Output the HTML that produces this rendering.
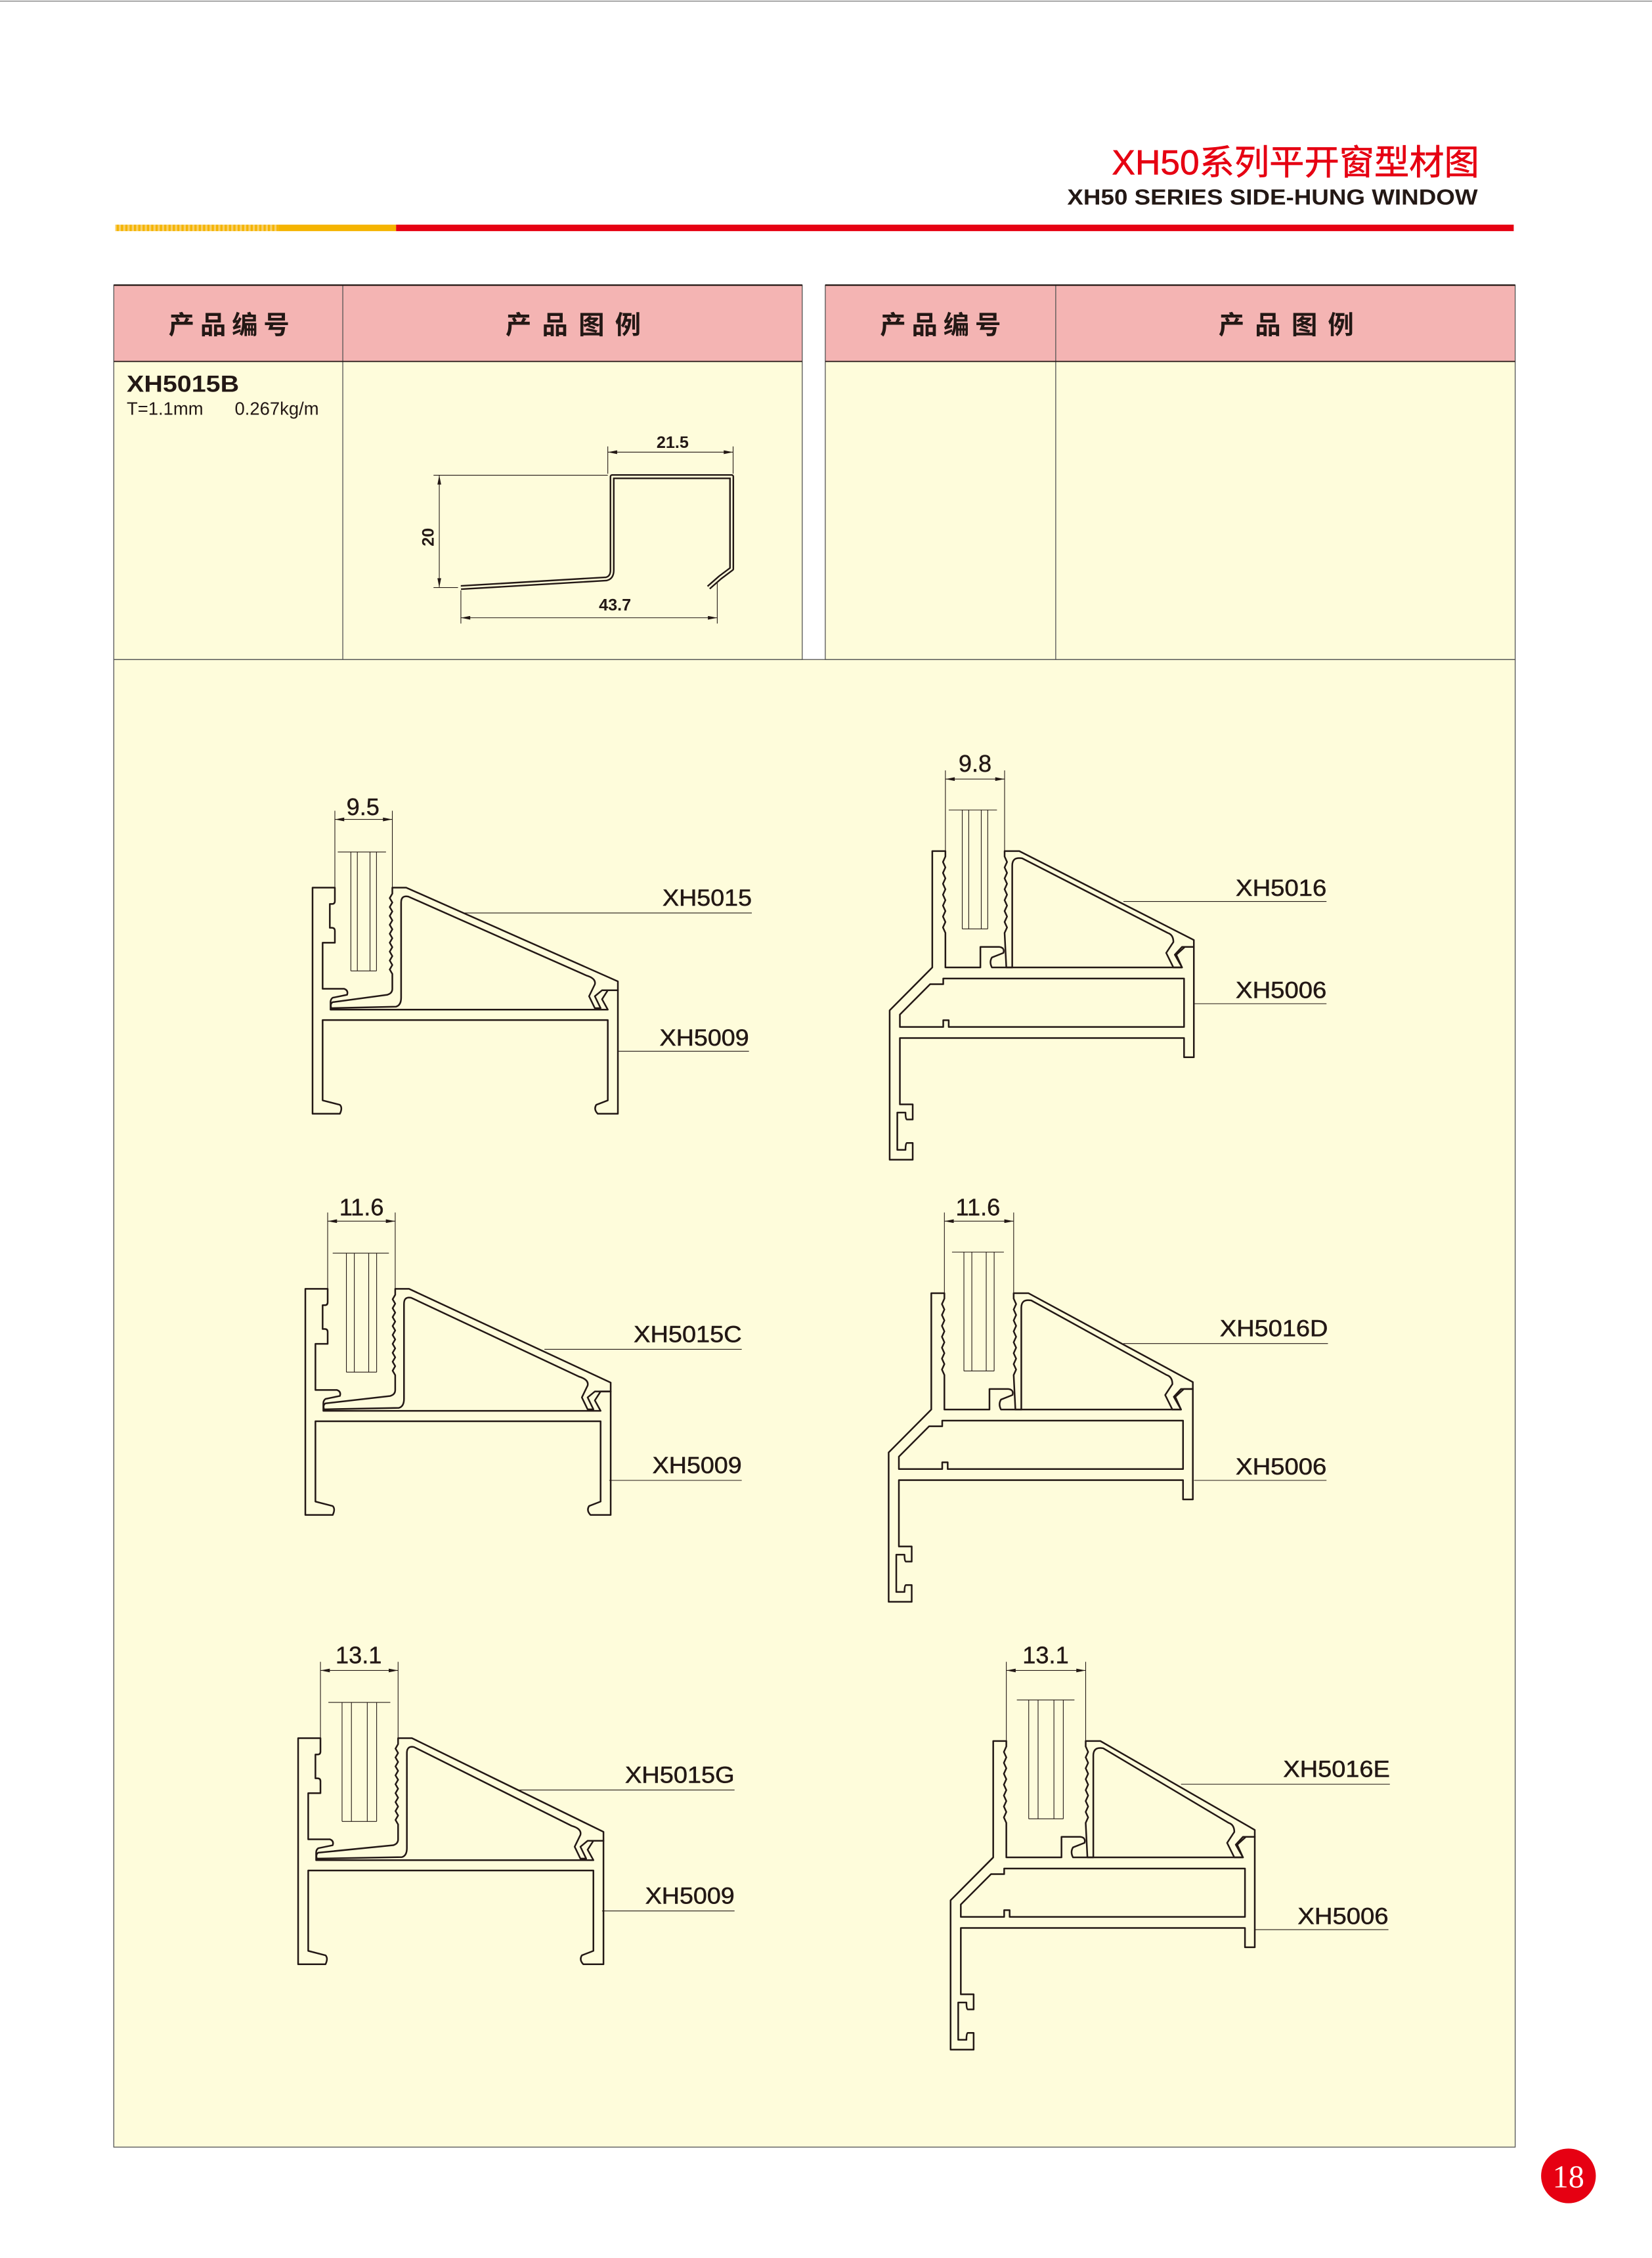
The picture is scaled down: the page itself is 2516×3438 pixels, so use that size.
<!DOCTYPE html>
<html><head><meta charset="utf-8"><style>
html,body{margin:0;padding:0;background:#fff;}
svg{display:block;}
text{font-family:"Liberation Sans","Noto Sans CJK SC",sans-serif;fill:#231815;}
.p{fill:none;stroke:#231815;stroke-width:2.5;vector-effect:non-scaling-stroke;stroke-linejoin:round;}
.t{fill:none;stroke:#231815;stroke-width:1.1;vector-effect:non-scaling-stroke;}
.d{fill:none;stroke:#231815;stroke-width:0.5;}
.lb{font-size:16px;stroke:#231815;stroke-width:0.25;}
.dm{font-size:16.5px;text-anchor:middle;stroke:#231815;stroke-width:0.2;}
</style></head><body>
<svg width="2516" height="3438" viewBox="0 0 1147 1568" preserveAspectRatio="none" xmlns="http://www.w3.org/2000/svg">
<defs>
<marker id="ar" viewBox="0 0 10 4" refX="10" refY="2" markerWidth="7" markerHeight="2.6" markerUnits="userSpaceOnUse" orient="auto-start-reverse"><path d="M0,0 L10,2 L0,4 Z" fill="#231815"/></marker>
<pattern id="st" width="3" height="10" patternUnits="userSpaceOnUse"><rect width="3" height="10" fill="#f8d06a"/><rect width="1.5" height="10" fill="#f5b400"/></pattern>
</defs>
<rect width="1147" height="1568" fill="#fff"/>
<line x1="0" y1="0.8" x2="1147" y2="0.8" stroke="#999" stroke-width="0.8"/>
<text x="1027" y="121" font-size="24" style="fill:#e60012;stroke:#e60012;stroke-width:0.3" text-anchor="end" textLength="255" lengthAdjust="spacingAndGlyphs">XH50系列平开窗型材图</text>
<text x="1026" y="142" font-size="15" font-weight="bold" text-anchor="end" textLength="285" lengthAdjust="spacingAndGlyphs">XH50 SERIES SIDE-HUNG WINDOW</text>
<rect x="80" y="156" width="113" height="4.5" fill="url(#st)"/>
<rect x="193" y="156" width="82" height="4.5" fill="#f5b400"/>
<rect x="275" y="156" width="776" height="4.5" fill="#e60012"/>
<rect x="79" y="198" width="478" height="260" fill="#fefcdb"/>
<rect x="573" y="198" width="479" height="260" fill="#fefcdb"/>
<rect x="79" y="198" width="478" height="53" fill="#f4b4b3"/>
<rect x="573" y="198" width="479" height="53" fill="#f4b4b3"/>
<rect x="79" y="458" width="973" height="1033" fill="#fefcdb"/>
<g stroke="#555" stroke-width="0.6" fill="none">
<rect x="79" y="198" width="478" height="260"/>
<rect x="573" y="198" width="479" height="260"/>
<line x1="238" y1="198" x2="238" y2="458"/><line x1="733" y1="198" x2="733" y2="458"/>
<line x1="79" y1="251" x2="557" y2="251"/><line x1="573" y1="251" x2="1052" y2="251"/>
<rect x="79" y="458" width="973" height="1033"/>
</g>
<line x1="79" y1="198" x2="557" y2="198" stroke="#231815" stroke-width="1"/>
<line x1="573" y1="198" x2="1052" y2="198" stroke="#231815" stroke-width="1"/>
<line x1="79" y1="251" x2="557" y2="251" stroke="#231815" stroke-width="0.8"/>
<line x1="573" y1="251" x2="1052" y2="251" stroke="#231815" stroke-width="0.8"/>
<g font-size="18" font-weight="bold" text-anchor="middle">
<text x="159" y="232" textLength="84" lengthAdjust="spacing">产 品 编 号</text><text x="398" y="232" textLength="94" lengthAdjust="spacing">产 品 图 例</text>
<text x="653" y="232" textLength="84" lengthAdjust="spacing">产 品 编 号</text><text x="893" y="232" textLength="94" lengthAdjust="spacing">产 品 图 例</text>
</g>
<text x="88" y="272" font-size="16" font-weight="bold" textLength="78" lengthAdjust="spacingAndGlyphs">XH5015B</text>
<text x="88" y="288" font-size="12.5">T=1.1mm</text>
<text x="163" y="288" font-size="12.5">0.267kg/m</text>
<path d="M320,408 L421,402 Q425,401 425,396 V331 H508 V395 L500,401 L492,408" fill="none" stroke="#231815" stroke-width="3.4" stroke-linejoin="round"/>
<path d="M320,408 L421,402 Q425,401 425,396 V331 H508 V395 L500,401 L492,408" fill="none" stroke="#fefcdb" stroke-width="1.2" stroke-linejoin="round"/>
<g class="d">
<line x1="422" y1="314" x2="509" y2="314" marker-start="url(#ar)" marker-end="url(#ar)"/>
<line x1="422" y1="310" x2="422" y2="329"/><line x1="509" y1="310" x2="509" y2="329"/>
<line x1="305" y1="330" x2="305" y2="408" marker-start="url(#ar)" marker-end="url(#ar)"/>
<line x1="301" y1="330" x2="422" y2="330"/><line x1="301" y1="408" x2="318" y2="408"/>
<line x1="320" y1="429" x2="498" y2="429" marker-start="url(#ar)" marker-end="url(#ar)"/>
<line x1="320" y1="410" x2="320" y2="433"/><line x1="498" y1="405" x2="498" y2="433"/>
</g>
<text x="467" y="311" font-size="11.5" font-weight="bold" text-anchor="middle">21.5</text>
<text x="427" y="424" font-size="11.5" font-weight="bold" text-anchor="middle">43.7</text>
<text x="301" y="373" font-size="11.5" font-weight="bold" text-anchor="middle" transform="rotate(-90 301 373)">20</text>

<g transform="translate(217,616.4) scale(1,1.033)">
<path class="p" d="M0,0 H15.5 V9 Q15.5,11 13.5,11 H12 V27 H13.5 Q15.5,27 15.5,29 V37 H7 V68 H22 Q25,69 24,72 L14,74 Q12.5,75 12.5,77 V82 H205 L201,75 L205,69 H212 V152 H198 Q195,149 197,146 L205,143 V89 H7 V143 L19,146 Q21,148 19,152 H0 Z"/>
<path class="p" d="M55.4,0 L55.4,4 L53.6,7 L55.4,10 L53.6,13 L55.4,16 L53.6,19 L55.4,22 L53.6,25 L55.4,28 L53.6,31 L55.4,34 L53.6,37 L55.4,40 L53.6,43 L55.4,46 L53.6,49 L55.4,52 L53.6,55 L55.4,58 L55.4,68 Q55.4,71 52,72 L14,77 Q12,78 13,81 L58,80 Q61.5,79 61.5,74 V10 Q61.5,5 66.5,6 L190,59 Q197,61 196,65 L192,73 L196,81 H200 L196,73 L201,69 H212 V63 L65,0 Z"/>
<path class="t" d="M26.6,-24 V56 M31.1,-24 V56 M39.9,-24 V56 M44.4,-24 V56 M17.5,-24 H51 M26.6,56 H44.4"/>
</g>
<g transform="translate(212,895) scale(1,1.033)">
<path class="p" d="M0,0 H15.5 V9 Q15.5,11 13.5,11 H12 V27 H13.5 Q15.5,27 15.5,29 V37 H7 V68 H22 Q25,69 24,72 L14,74 Q12.5,75 12.5,77 V82 H205 L201,75 L205,69 H212 V152 H198 Q195,149 197,146 L205,143 V89 H7 V143 L19,146 Q21,148 19,152 H0 Z"/>
<path class="p" d="M62.4,0 L62.4,4 L60.6,7 L62.4,10 L60.6,13 L62.4,16 L60.6,19 L62.4,22 L60.6,25 L62.4,28 L60.6,31 L62.4,34 L60.6,37 L62.4,40 L60.6,43 L62.4,46 L60.6,49 L62.4,52 L60.6,55 L62.4,58 L62.4,68 Q62.4,71 59,72 L14,77 Q12,78 13,81 L65,80 Q68.5,79 68.5,74 V10 Q68.5,5 73.5,6 L190,59 Q197,61 196,65 L192,73 L196,81 H200 L196,73 L201,69 H212 V63 L72,0 Z"/>
<path class="t" d="M28.5,-24 V56 M34,-24 V56 M44,-24 V56 M49.5,-24 V56 M19,-24 H58 M28.5,56 H49.5"/>
</g>
<g transform="translate(207,1207) scale(1,1.033)">
<path class="p" d="M0,0 H15.5 V9 Q15.5,11 13.5,11 H12 V27 H13.5 Q15.5,27 15.5,29 V37 H7 V68 H22 Q25,69 24,72 L14,74 Q12.5,75 12.5,77 V82 H205 L201,75 L205,69 H212 V152 H198 Q195,149 197,146 L205,143 V89 H7 V143 L19,146 Q21,148 19,152 H0 Z"/>
<path class="p" d="M69.4,0 L69.4,4 L67.6,7 L69.4,10 L67.6,13 L69.4,16 L67.6,19 L69.4,22 L67.6,25 L69.4,28 L67.6,31 L69.4,34 L67.6,37 L69.4,40 L67.6,43 L69.4,46 L67.6,49 L69.4,52 L67.6,55 L69.4,58 L69.4,68 Q69.4,71 66,72 L14,77 Q12,78 13,81 L72,80 Q75.5,79 75.5,74 V10 Q75.5,5 80.5,6 L190,59 Q197,61 196,65 L192,73 L196,81 H200 L196,73 L201,69 H212 V63 L79,0 Z"/>
<path class="t" d="M30.5,-24 V56 M37,-24 V56 M48,-24 V56 M54.5,-24 V56 M21,-24 H64 M30.5,56 H54.5"/>
</g>

<g transform="translate(617.7,591) scale(1,1.2628)">
<path class="p" d="M29.6,0 H38.7 L38.7,3 L37,6 L38.7,9 L37,12 L38.7,15 L37,18 L38.7,21 L37,24 L38.7,27 L37,30 L38.7,33 L37,36 L38.7,39 L37,42 L38.7,45 L38.7,64 H63 V52.7 H76 Q80,53 79,56 L71,58.5 Q69,61 71,64 H203 L198,57 L203,52.7 H211.2 V113.4 H204.4 V102.8 H7.1 V139.3 H16 V147.6 H12 Q11,147.6 11,143.8 H5.3 V164.3 H11 Q11,160.5 12,160.5 H16 V169.7 H0 V87.6 L29.6,64 Z"/>
<path class="p" d="M37.2,70.1 V73.2 H28.1 L7.1,89.9 V96.7 H37.2 V93 H41 V96.7 H204.4 V70.1 Z"/>
<path class="p" d="M79.8,0 H90 L211.2,48.9 V52.7 H205 L199,57 L203,64 H197 L192,56 L197,50 Q197,46 193,45 L92,4 Q85.1,3 85.1,8 V64 H81 L79.8,45 L81.5,42 L79.8,39 L81.5,36 L79.8,33 L81.5,30 L79.8,27 L81.5,24 L79.8,21 L81.5,18 L79.8,15 L81.5,12 L79.8,9 L81.5,6 L79.8,3 Z"/>
<path class="t" d="M50.4,-22.6 V42.8 M54.9,-22.6 V42.8 M63.6,-22.6 V42.8 M68.1,-22.6 V42.8 M41,-22.6 H74.5 M50.4,42.8 H68.1"/>
</g>
<g transform="translate(617,898) scale(1,1.2628)">
<path class="p" d="M29.6,0 H38.7 L38.7,3 L37,6 L38.7,9 L37,12 L38.7,15 L37,18 L38.7,21 L37,24 L38.7,27 L37,30 L38.7,33 L37,36 L38.7,39 L37,42 L38.7,45 L38.7,64 H70 V52.7 H83 Q87,53 86,56 L78,58.5 Q76,61 78,64 H203 L198,57 L203,52.7 H211.2 V113.4 H204.4 V102.8 H7.1 V139.3 H16 V147.6 H12 Q11,147.6 11,143.8 H5.3 V164.3 H11 Q11,160.5 12,160.5 H16 V169.7 H0 V87.6 L29.6,64 Z"/>
<path class="p" d="M37.2,70.1 V73.2 H28.1 L7.1,89.9 V96.7 H37.2 V93 H41 V96.7 H204.4 V70.1 Z"/>
<path class="p" d="M86.8,0 H97 L211.2,48.9 V52.7 H205 L199,57 L203,64 H197 L192,56 L197,50 Q197,46 193,45 L99,4 Q92.1,3 92.1,8 V64 H88 L86.8,45 L88.5,42 L86.8,39 L88.5,36 L86.8,33 L88.5,30 L86.8,27 L88.5,24 L86.8,21 L88.5,18 L86.8,15 L88.5,12 L86.8,9 L88.5,6 L86.8,3 Z"/>
<path class="t" d="M52.25,-22.6 V42.8 M57.75,-22.6 V42.8 M67.75,-22.6 V42.8 M73.25,-22.6 V42.8 M44,-22.6 H80 M52.25,42.8 H73.25"/>
</g>
<g transform="translate(660,1209) scale(1,1.2628)">
<path class="p" d="M29.6,0 H38.7 L38.7,3 L37,6 L38.7,9 L37,12 L38.7,15 L37,18 L38.7,21 L37,24 L38.7,27 L37,30 L38.7,33 L37,36 L38.7,39 L37,42 L38.7,45 L38.7,64 H77 V52.7 H90 Q94,53 93,56 L85,58.5 Q83,61 85,64 H203 L198,57 L203,52.7 H211.2 V113.4 H204.4 V102.8 H7.1 V139.3 H16 V147.6 H12 Q11,147.6 11,143.8 H5.3 V164.3 H11 Q11,160.5 12,160.5 H16 V169.7 H0 V87.6 L29.6,64 Z"/>
<path class="p" d="M37.2,70.1 V73.2 H28.1 L7.1,89.9 V96.7 H37.2 V93 H41 V96.7 H204.4 V70.1 Z"/>
<path class="p" d="M93.8,0 H104 L211.2,48.9 V52.7 H205 L199,57 L203,64 H197 L192,56 L197,50 Q197,46 193,45 L106,4 Q99.1,3 99.1,8 V64 H95 L93.8,45 L95.5,42 L93.8,39 L95.5,36 L93.8,33 L95.5,30 L93.8,27 L95.5,24 L93.8,21 L95.5,18 L93.8,15 L95.5,12 L93.8,9 L95.5,6 L93.8,3 Z"/>
<path class="t" d="M54.25,-22.6 V42.8 M60.75,-22.6 V42.8 M71.75,-22.6 V42.8 M78.25,-22.6 V42.8 M46,-22.6 H86 M54.25,42.8 H78.25"/>
</g>

<g class="d">
<line x1="232.5" y1="569" x2="272.4" y2="569" marker-start="url(#ar)" marker-end="url(#ar)"/>
<line x1="232.5" y1="563" x2="232.5" y2="616"/><line x1="272.4" y1="563" x2="272.4" y2="616"/>
<line x1="227.5" y1="848" x2="274.4" y2="848" marker-start="url(#ar)" marker-end="url(#ar)"/>
<line x1="227.5" y1="842" x2="227.5" y2="895"/><line x1="274.4" y1="842" x2="274.4" y2="895"/>
<line x1="222.5" y1="1160" x2="276.4" y2="1160" marker-start="url(#ar)" marker-end="url(#ar)"/>
<line x1="222.5" y1="1154" x2="222.5" y2="1207"/><line x1="276.4" y1="1154" x2="276.4" y2="1207"/>
<line x1="656.4" y1="541" x2="697.5" y2="541" marker-start="url(#ar)" marker-end="url(#ar)"/>
<line x1="656.4" y1="535" x2="656.4" y2="591"/><line x1="697.5" y1="535" x2="697.5" y2="591"/>
<line x1="655.7" y1="848" x2="703.8" y2="848" marker-start="url(#ar)" marker-end="url(#ar)"/>
<line x1="655.7" y1="842" x2="655.7" y2="898"/><line x1="703.8" y1="842" x2="703.8" y2="898"/>
<line x1="698.7" y1="1160" x2="753.8" y2="1160" marker-start="url(#ar)" marker-end="url(#ar)"/>
<line x1="698.7" y1="1154" x2="698.7" y2="1209"/><line x1="753.8" y1="1154" x2="753.8" y2="1209"/>
</g>
<text class="dm" x="252" y="566">9.5</text>
<text class="dm" x="251" y="844">11.6</text>
<text class="dm" x="249" y="1155">13.1</text>
<text class="dm" x="677" y="536">9.8</text>
<text class="dm" x="679" y="844">11.6</text>
<text class="dm" x="726" y="1155">13.1</text>

<g class="d">
<line x1="322" y1="634" x2="522" y2="634"/>
<line x1="429" y1="730" x2="520" y2="730"/>
<line x1="780" y1="626" x2="921" y2="626"/>
<line x1="829" y1="697" x2="921" y2="697"/>
<line x1="378" y1="937" x2="515" y2="937"/>
<line x1="423" y1="1028" x2="515" y2="1028"/>
<line x1="780" y1="933" x2="922" y2="933"/>
<line x1="829" y1="1028" x2="921" y2="1028"/>
<line x1="360" y1="1243" x2="510" y2="1243"/>
<line x1="418" y1="1327" x2="510" y2="1327"/>
<line x1="820" y1="1239" x2="965" y2="1239"/>
<line x1="871" y1="1340" x2="964" y2="1340"/>
</g>
<g class="lb">
<text x="460" y="629" textLength="62" lengthAdjust="spacingAndGlyphs">XH5015</text>
<text x="458" y="726" textLength="62" lengthAdjust="spacingAndGlyphs">XH5009</text>
<text x="858" y="622" textLength="63" lengthAdjust="spacingAndGlyphs">XH5016</text>
<text x="858" y="693" textLength="63" lengthAdjust="spacingAndGlyphs">XH5006</text>
<text x="440" y="932" textLength="75" lengthAdjust="spacingAndGlyphs">XH5015C</text>
<text x="453" y="1023" textLength="62" lengthAdjust="spacingAndGlyphs">XH5009</text>
<text x="847" y="928" textLength="75" lengthAdjust="spacingAndGlyphs">XH5016D</text>
<text x="858" y="1024" textLength="63" lengthAdjust="spacingAndGlyphs">XH5006</text>
<text x="434" y="1238" textLength="76" lengthAdjust="spacingAndGlyphs">XH5015G</text>
<text x="448" y="1322" textLength="62" lengthAdjust="spacingAndGlyphs">XH5009</text>
<text x="891" y="1234" textLength="74" lengthAdjust="spacingAndGlyphs">XH5016E</text>
<text x="901" y="1336" textLength="63" lengthAdjust="spacingAndGlyphs">XH5006</text>
</g>
<circle cx="1089" cy="1511" r="19" fill="#e60012"/>
<text x="1089" y="1519" font-size="22" text-anchor="middle" style="fill:#fff;font-family:'Liberation Serif',serif">18</text>
</svg>
</body></html>
